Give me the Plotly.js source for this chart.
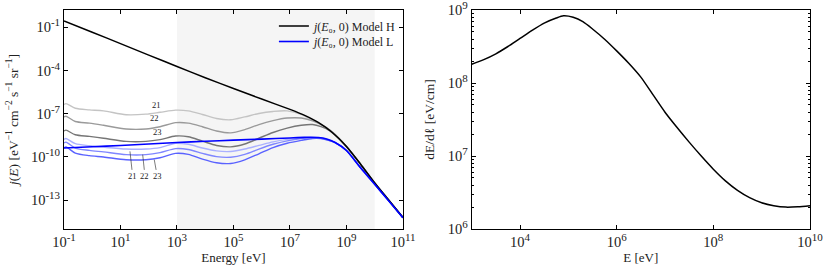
<!DOCTYPE html>
<html><head><meta charset="utf-8">
<script src="https://cdn.plot.ly/plotly-3.0.1.min.js"></script>
<style>html,body{margin:0;padding:0;background:#fff}</style>
</head><body>
<div id="chart" style="width:830px;height:274px"></div>
<script>
// ---------- data (log10 values) ----------
// Left panel: j(E) spectra
const logE_H   = [-1,0,1,2,3,4,5,6,7,7.5,8,8.5,9,9.5,10,10.5,11];
const logJ_H   = [-0.56,-1.34,-2.13,-2.93,-3.72,-4.5,-5.25,-5.98,-6.7,-7.1,-7.6,-8.3,-9.27,-10.5,-11.8,-13.0,-14.2];

const logE_L   = [-1,0,1,2,3,4,5,6,7,7.5,8,8.3,8.6,9,9.5,10,10.5,11];
const logJ_L   = [-9.38,-9.29,-9.2,-9.1,-9.0,-8.91,-8.83,-8.76,-8.68,-8.64,-8.65,-8.75,-9.0,-9.55,-10.75,-11.9,-13.05,-14.22];

const logE_depth = [-1,-0.93,-0.6,-0.1,0.4,1.2,1.9,2.4,2.95,3.4,3.9,4.4,4.9,5.4,5.9,6.4,6.9,7.4,7.8,8.1,8.4,8.6,9,9.5,10,10.5,11];
const logJ_H21 = [-6.36,-6.30,-6.62,-6.73,-6.8,-7.07,-7.03,-6.9,-6.75,-6.8,-7.05,-7.33,-7.42,-7.22,-6.98,-6.84,-6.8,-7.05,-7.45,-7.72,-8.12,-8.45,-9.27,-10.5,-11.8,-13.0,-14.2];
const logJ_H22 = [-7.22,-7.17,-7.54,-7.65,-7.8,-8.06,-8.06,-7.9,-7.62,-7.65,-7.9,-8.2,-8.33,-8.1,-7.75,-7.48,-7.3,-7.3,-7.5,-7.75,-8.12,-8.45,-9.27,-10.5,-11.8,-13.0,-14.2];
const logJ_H23 = [-8.2,-8.14,-8.46,-8.57,-8.7,-8.92,-8.92,-8.8,-8.55,-8.6,-8.9,-9.2,-9.3,-9.1,-8.7,-8.3,-8.0,-7.8,-7.75,-7.9,-8.18,-8.5,-9.27,-10.5,-11.8,-13.0,-14.2];
const logJ_L21 = [-8.78,-8.72,-9.08,-9.22,-9.32,-9.45,-9.45,-9.35,-9.05,-9.12,-9.38,-9.58,-9.62,-9.45,-9.2,-8.95,-8.78,-8.68,-8.65,-8.7,-8.85,-9.0,-9.55,-10.75,-11.9,-13.05,-14.22];
const logJ_L22 = [-9.03,-8.97,-9.38,-9.54,-9.65,-9.84,-9.84,-9.7,-9.42,-9.48,-9.75,-9.98,-10.02,-9.82,-9.45,-9.12,-8.88,-8.72,-8.66,-8.71,-8.86,-9.0,-9.55,-10.75,-11.9,-13.05,-14.22];
const logJ_L23 = [-9.36,-9.3,-9.73,-9.91,-10.0,-10.19,-10.19,-10.05,-9.75,-9.82,-10.15,-10.4,-10.45,-10.2,-9.78,-9.35,-9.05,-8.85,-8.72,-8.73,-8.87,-9.0,-9.55,-10.75,-11.9,-13.05,-14.22];

// Right panel: stopping power dE/dl
const logE_dEdl = [3,3.25,3.5,3.75,4,4.25,4.5,4.75,4.9,5.1,5.3,5.5,5.75,6,6.25,6.5,6.75,7,7.25,7.5,7.75,8,8.25,8.5,8.75,9,9.25,9.5,9.75,10];
const logDEdl   = [8.257,8.32,8.40,8.50,8.61,8.72,8.82,8.89,8.92,8.90,8.84,8.74,8.60,8.44,8.27,8.08,7.84,7.60,7.39,7.19,7.00,6.82,6.66,6.53,6.43,6.36,6.32,6.30,6.305,6.32];

// tick labels
const leftXTicks  = [-1,1,3,5,7,9,11];
const leftYTicks  = [-1,-4,-7,-10,-13];
const rightXTicks = [4,6,8,10];
const rightYTicks = [6,7,8,9];
const depthLabels = ['21','22','23'];
const seriesNames = ['<i>j</i>(<i>E</i>₀, 0) Model H', '<i>j</i>(<i>E</i>₀, 0) Model L'];
// ------------------------------------------------------------------

const p10 = a => a.map(v => Math.pow(10, v));
const sup = n => '10<sup><span style="font-size:11px">' + n + '</span></sup>';
const FONT = 'Liberation Serif, DejaVu Serif, serif';

const grays = ['#c4c4c4','#9a9a9a','#767676'];
const blues = ['#aab0ff','#7f86ff','#5a62ff'];

const traces = [];
[logJ_H21, logJ_H22, logJ_H23].forEach((s,i)=>traces.push({
  x:p10(logE_depth), y:p10(s), mode:'lines', line:{color:grays[i], width:1.4, shape:'spline', smoothing:0.8},
  showlegend:false, xaxis:'x', yaxis:'y', hoverinfo:'skip'}));
[logJ_L21, logJ_L22, logJ_L23].forEach((s,i)=>traces.push({
  x:p10(logE_depth), y:p10(s), mode:'lines', line:{color:blues[i], width:1.4, shape:'spline', smoothing:0.8},
  showlegend:false, xaxis:'x', yaxis:'y', hoverinfo:'skip'}));
traces.push({x:p10(logE_H), y:p10(logJ_H), mode:'lines', line:{color:'#000', width:1.5, shape:'spline', smoothing:0.6},
  name:seriesNames[0], xaxis:'x', yaxis:'y', legend:'legend'});
traces.push({x:p10(logE_L), y:p10(logJ_L), mode:'lines', line:{color:'#0000ff', width:1.6, shape:'spline', smoothing:0.6},
  name:seriesNames[1], xaxis:'x', yaxis:'y', legend:'legend2'});
traces.push({x:p10(logE_dEdl), y:p10(logDEdl), mode:'lines', line:{color:'#000', width:1.5, shape:'spline', smoothing:0.7},
  showlegend:false, xaxis:'x2', yaxis:'y2'});

const axBase = {type:'log', showgrid:false, zeroline:false, showline:true, linecolor:'#000', linewidth:1,
  mirror:'ticks', ticks:'inside', ticklen:4, tickcolor:'#000', tickfont:{family:FONT, size:14.5, color:'#222'},
  tickmode:'array', ticklabeloverflow:'allow'};
const legBase = {x:0.330, xanchor:'left', yanchor:'middle', bgcolor:'rgba(255,255,255,0)',
  orientation:'h', entrywidth:125, entrywidthmode:'pixels',
  font:{family:FONT, size:12, color:'#222'}, itemwidth:30};

const layout = {
  width:830, height:274, margin:{l:0,r:0,t:0,b:0}, paper_bgcolor:'#fff', plot_bgcolor:'#fff',
  font:{family:FONT, color:'#222'},
  xaxis:Object.assign({}, axBase, {domain:[0.0771,0.4855], range:[-1.00001,11.00001], anchor:'y',
     tickvals:p10(leftXTicks), ticktext:leftXTicks.map(sup),
     title:{text:'Energy [eV]', font:{family:FONT,size:13,color:'#222'}, standoff:2}}),
  yaxis:Object.assign({}, axBase, {domain:[0.1642,0.9635], range:[-15,0.2], anchor:'x',
     tickvals:p10(leftYTicks), ticktext:leftYTicks.map(sup),
     title:{text:'<i>j</i>(<i>E</i>) [eV<sup>−1</sup> cm<sup>−2</sup> s<sup>−1</sup> sr<sup>−1</sup>]', font:{family:FONT,size:13.5,color:'#222'}, standoff:9}}),
  xaxis2:Object.assign({}, axBase, {domain:[0.5683,0.9759], range:[2.99999,10.00001], anchor:'y2',
     tickvals:p10(rightXTicks), ticktext:rightXTicks.map(sup),
     title:{text:'E [eV]', font:{family:FONT,size:13,color:'#222'}, standoff:3}}),
  yaxis2:Object.assign({}, axBase, {domain:[0.1642,0.9635], range:[5.99999,9.00001], anchor:'x2',
     tickvals:p10(rightYTicks), ticktext:rightYTicks.map(sup),
     minor:{ticks:'inside', ticklen:2, tickcolor:'#000', dtick:'D1', showgrid:false},
     title:{text:'dE/dℓ [eV/cm]', font:{family:FONT,size:13.5,color:'#222'}, standoff:10}}),
  shapes:[{type:'rect', xref:'x', yref:'y domain', x0:1e3, x1:1e10, y0:0, y1:1,
     fillcolor:'#f5f5f5', line:{width:0}, layer:'below'}],
  legend:Object.assign({}, legBase, {y:1-26/274}),
  legend2:Object.assign({}, legBase, {y:1-41.5/274}),
  annotations:[]
};

// depth labels for Model H curves (gray)
const grayLabelX = [2.29,2.22,2.32];
const grayLabelY = [-6.39,-7.3,-8.3];
depthLabels.forEach((t,i)=>layout.annotations.push({text:t, x:grayLabelX[i], y:grayLabelY[i], xref:'x', yref:'y',
  showarrow:false, font:{family:FONT,size:8.5,color:'#222'}}));
// depth labels for Model L curves with leader lines
const blueTipX = [1.336,1.786,2.196];
const blueTipY = [-9.61,-9.84,-10.19];
const blueAx = [2.7,2.3,3];
const blueAy = [25,21.7,16.7];
depthLabels.forEach((t,i)=>layout.annotations.push({text:t, x:blueTipX[i], y:blueTipY[i], xref:'x', yref:'y',
  showarrow:true, arrowhead:0, arrowwidth:0.6, arrowcolor:'#222', ax:blueAx[i], ay:blueAy[i], standoff:0,
  font:{family:FONT,size:8.5,color:'#222'}}));

Plotly.newPlot('chart', traces, layout, {displayModeBar:false, staticPlot:true});
</script>
</body></html>
